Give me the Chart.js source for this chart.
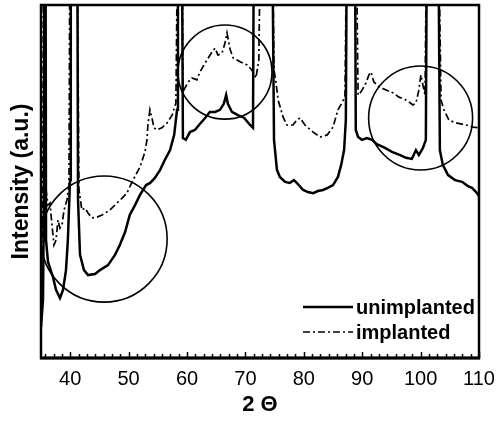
<!DOCTYPE html>
<html>
<head>
<meta charset="utf-8">
<script src="https://cdn.jsdelivr.net/npm/chart.js@4.4.1/dist/chart.umd.min.js"></script>
<style>
  html, body { margin: 0; padding: 0; background: #fff; }
  #wrap { width: 496px; height: 429px; }
</style>
</head>
<body>
<div id="wrap"><canvas id="xrd"></canvas></div>
<script>
// XRD scans: 2-theta (deg) vs intensity (a.u., 0-100 frame; strong peaks run off the top)
const thetaUnimpl = [
  35.0, 35.34, 35.5, 35.6, 35.77, 35.86, 36.2, 37.05, 37.57, 38.25, 38.77, 39.28, 39.6, 39.97,
  40.1, 41.2, 41.34, 41.68, 42.36, 43.05, 44.25, 45.1, 46.47, 47.67, 48.5, 49.4, 50.2, 51.1,
  51.95, 53.0, 53.7, 54.5, 55.4, 56.2, 57.1, 57.8, 58.3, 58.45, 59.1, 59.3, 59.8, 60.5, 61.35,
  62.2, 63.1, 63.9, 64.8, 65.65, 66.3, 66.7, 67.0, 67.7, 68.7, 69.8, 70.8, 71.3, 71.47, 74.55,
  74.9, 75.4, 75.9, 76.8, 77.6, 78.3, 78.8, 79.9, 80.7, 81.6, 82.4, 83.3, 84.1, 85.0, 85.85,
  86.4, 86.9, 87.2, 87.4, 88.75, 88.9, 89.3, 89.95, 90.8, 91.7, 92.5, 93.9, 95.1, 96.5, 97.5,
  98.5, 99.2, 99.7, 100.4, 100.9, 101.1, 103.0, 103.3, 103.8, 104.7, 105.9, 107.1, 108.1,
  108.8, 109.5, 110.0
];
const intUnimpl = [
  8.8, 16.4, 44.8, 130, 130, 33.4, 27.2, 22.9, 19.3, 17.0, 19.3, 24.9, 33.4, 50.4,
  130, 130, 44.8, 29.2, 24.9, 23.5, 23.8, 24.9, 26.3, 29.2, 32.0, 35.7, 40.5, 43.3,
  46.2, 49.0, 49.6, 51.0, 53.3, 56.1, 58.9, 63.2, 70.3, 130, 130, 62.3, 61.8, 64.0, 64.6,
  66.3, 68.0, 69.7, 69.7, 70.3, 72.0, 74.5, 72.0, 69.7, 68.8, 68.0, 66.0, 65.2, 130, 130,
  61.8, 53.3, 51.3, 49.9, 49.6, 50.4, 49.6, 47.6, 47.0, 46.7, 47.3, 47.6, 48.2, 49.0, 51.3,
  54.7, 58.9, 67.4, 130, 130, 64.6, 62.6, 61.8, 62.3, 61.8, 60.6, 59.5, 58.4, 57.5, 56.7,
  56.4, 58.9, 57.5, 59.5, 61.8, 130, 130, 58.9, 54.7, 51.8, 50.4, 49.9, 48.7,
  48.2, 47.0, 45.9
];

const thetaImpl = [
  35.0, 35.17, 35.34, 35.43, 35.68, 35.86, 36.2, 36.54, 36.88, 37.23, 37.57, 37.91, 38.25,
  38.6, 38.94, 39.45, 39.79, 39.97, 41.16, 41.5, 42.0, 42.53, 43.05, 43.7, 44.6, 45.45,
  46.8, 48.0, 48.9, 49.7, 50.75, 51.95, 52.8, 53.15, 53.3, 53.65, 54.0, 54.35, 54.85, 55.7,
  56.6, 57.45, 58.1, 58.45, 59.15, 59.3, 60.2, 60.85, 61.7, 62.2, 63.4, 64.3, 64.8, 65.3,
  66.0, 66.5, 66.85, 67.4, 67.9, 69.1, 70.3, 71.1, 71.8, 72.3, 72.65, 74.55, 74.9, 75.25,
  75.6, 76.45, 77.1, 78.15, 78.8, 79.35, 80.2, 81.6, 82.8, 84.0, 85.0, 85.85, 86.5, 87.05,
  87.4, 88.9, 89.3, 89.8, 90.65, 91.15, 91.5, 92.0, 92.9, 94.1, 95.3, 96.3, 97.5, 98.7,
  99.2, 99.7, 100.05, 100.4, 100.75, 101.1, 103.0, 103.5, 104.0, 104.85, 106.05, 107.8,
  109.0, 110.0
];
const intImpl = [
  25.5, 30.6, 58.9, 130, 130, 47.6, 43.3, 43.9, 37.7, 32.0, 33.4, 39.1, 36.8,
  37.7, 41.9, 44.8, 49.0, 130, 130, 47.6, 41.9, 42.5, 41.1, 39.7, 39.9, 40.5,
  41.9, 43.9, 45.3, 46.7, 50.4, 54.1, 58.4, 61.8, 66.0, 70.3, 68.0, 65.2, 64.6, 65.2,
  66.6, 68.8, 72.2, 130, 130, 75.4, 78.2, 79.3, 78.8, 81.0, 84.4, 86.7, 87.8, 85.8,
  86.4, 89.2, 92.1, 87.3, 85.0, 83.9, 83.0, 81.6, 79.3, 84.4, 130, 130, 81.6, 77.9,
  73.1, 68.3, 66.0, 66.0, 67.4, 68.0, 66.0, 64.0, 62.6, 63.2, 65.4, 70.3, 72.2, 73.9,
  130, 130, 74.5, 75.4, 77.9, 80.2, 81.0, 78.2, 76.8, 75.9, 75.1, 73.9, 73.1, 71.7,
  72.2, 75.9, 80.2, 77.3, 74.5, 130, 130, 73.1, 70.3, 67.4, 66.6, 66.0,
  65.4, 65.2
];

// highlighted regions: centre (2θ, intensity) and radius in degrees of 2θ
const ringTheta = [45.8, 66.5, 100.0];
const ringIntensity = [33.7, 81.0, 68.0];
const ringRadius = [10.8, 8.05, 8.9];

const xTicks = [40, 50, 60, 70, 80, 90, 100, 110];
const seriesNames = ['unimplanted', 'implanted'];

const FONT = '"Liberation Sans", Arial, Helvetica, sans-serif';
const MINOR_STEP = 10 / 7;

const toPoints = (xs, ys) => xs.map((x, i) => ({ x, y: ys[i] }));

// axis frame, inward tick marks and the three highlight rings
const decorations = {
  id: 'decorations',
  afterDatasetsDraw(chart) {
    const { ctx, chartArea: a, scales: { x, y } } = chart;
    ctx.save();
    ctx.strokeStyle = '#000';

    ctx.lineWidth = 1.6;
    ringTheta.forEach((t, i) => {
      const cx = x.getPixelForValue(t);
      const cy = y.getPixelForValue(ringIntensity[i]);
      const r = x.getPixelForValue(t + ringRadius[i]) - cx;
      ctx.beginPath();
      ctx.arc(cx, cy, r, 0, Math.PI * 2);
      ctx.stroke();
    });

    ctx.lineWidth = 1.5;
    for (let v = 40 - 3 * MINOR_STEP; v <= 110.01; v += MINOR_STEP) {
      const major = Math.abs(v / 10 - Math.round(v / 10)) < 0.01;
      const px = Math.round(x.getPixelForValue(v)) + 0.5;
      ctx.beginPath();
      ctx.moveTo(px, a.bottom);
      ctx.lineTo(px, a.bottom - (major ? 6 : 4));
      ctx.stroke();
    }

    ctx.lineWidth = 2.5;
    ctx.strokeRect(a.left, a.top, a.right - a.left, a.bottom - a.top);
    ctx.lineWidth = 3;
    ctx.beginPath();
    ctx.moveTo(a.left - 1, a.bottom);
    ctx.lineTo(a.right + 1, a.bottom);
    ctx.stroke();
    ctx.restore();
  }
};

// legend sits inside the plot, lower right
const insetLegend = {
  id: 'insetLegend',
  afterDraw(chart) {
    const { ctx, chartArea: a } = chart;
    const x1 = a.right - 176, x2 = a.right - 126;
    const rows = [a.bottom - 51, a.bottom - 26];
    chart.data.datasets.forEach((ds, i) => {
      ctx.save();
      ctx.strokeStyle = '#000';
      ctx.lineWidth = ds.borderWidth;
      ctx.setLineDash(ds.borderDash || []);
      ctx.beginPath();
      ctx.moveTo(x1, rows[i]);
      ctx.lineTo(x2, rows[i]);
      ctx.stroke();
      ctx.setLineDash([]);
      ctx.fillStyle = '#000';
      ctx.font = 'bold 20px ' + FONT;
      ctx.textBaseline = 'middle';
      ctx.fillText(ds.label, x2 + 3, rows[i] + 1);
      ctx.restore();
    });
  }
};

new Chart(document.getElementById('xrd'), {
  type: 'line',
  data: {
    datasets: [
      {
        label: seriesNames[0],
        data: toPoints(thetaUnimpl, intUnimpl),
        borderColor: '#000',
        borderWidth: 2.5,
        pointRadius: 0,
        tension: 0,
      },
      {
        label: seriesNames[1],
        data: toPoints(thetaImpl, intImpl),
        borderColor: '#000',
        borderWidth: 1.7,
        borderDash: [7, 3, 2, 3],
        pointRadius: 0,
        tension: 0,
      },
    ],
  },
  options: {
    responsive: true,
    maintainAspectRatio: false,
    animation: false,
    layout: { padding: { top: 5, right: 17, left: 0, bottom: 0 } },
    plugins: { legend: { display: false }, tooltip: { enabled: false } },
    scales: {
      x: {
        type: 'linear',
        min: 35,
        max: 110,
        afterBuildTicks: (s) => { s.ticks = xTicks.map(v => ({ value: v })); },
        afterFit: (s) => { s.height = 71; s.paddingLeft = 0; s.paddingRight = 0; },
        grid: { display: false, drawTicks: false },
        border: { display: false },
        ticks: { color: '#000', padding: 9, maxRotation: 0, font: { family: FONT, size: 20 } },
        title: {
          display: true,
          text: '2 Θ',
          color: '#000',
          font: { family: FONT, size: 22, weight: 'bold' },
          padding: { top: 0, bottom: 11 },
        },
      },
      y: {
        min: 0,
        max: 100,
        afterFit: (s) => { s.width = 41; s.paddingTop = 0; s.paddingBottom = 0; },
        grid: { display: false, drawTicks: false },
        border: { display: false },
        ticks: { display: false },
        title: {
          display: true,
          text: 'Intensity (a.u.)',
          color: '#000',
          font: { family: FONT, size: 23, weight: 'bold' },
          padding: { top: 8, bottom: 0 },
        },
      },
    },
  },
  plugins: [decorations, insetLegend],
});
</script>
</body>
</html>
